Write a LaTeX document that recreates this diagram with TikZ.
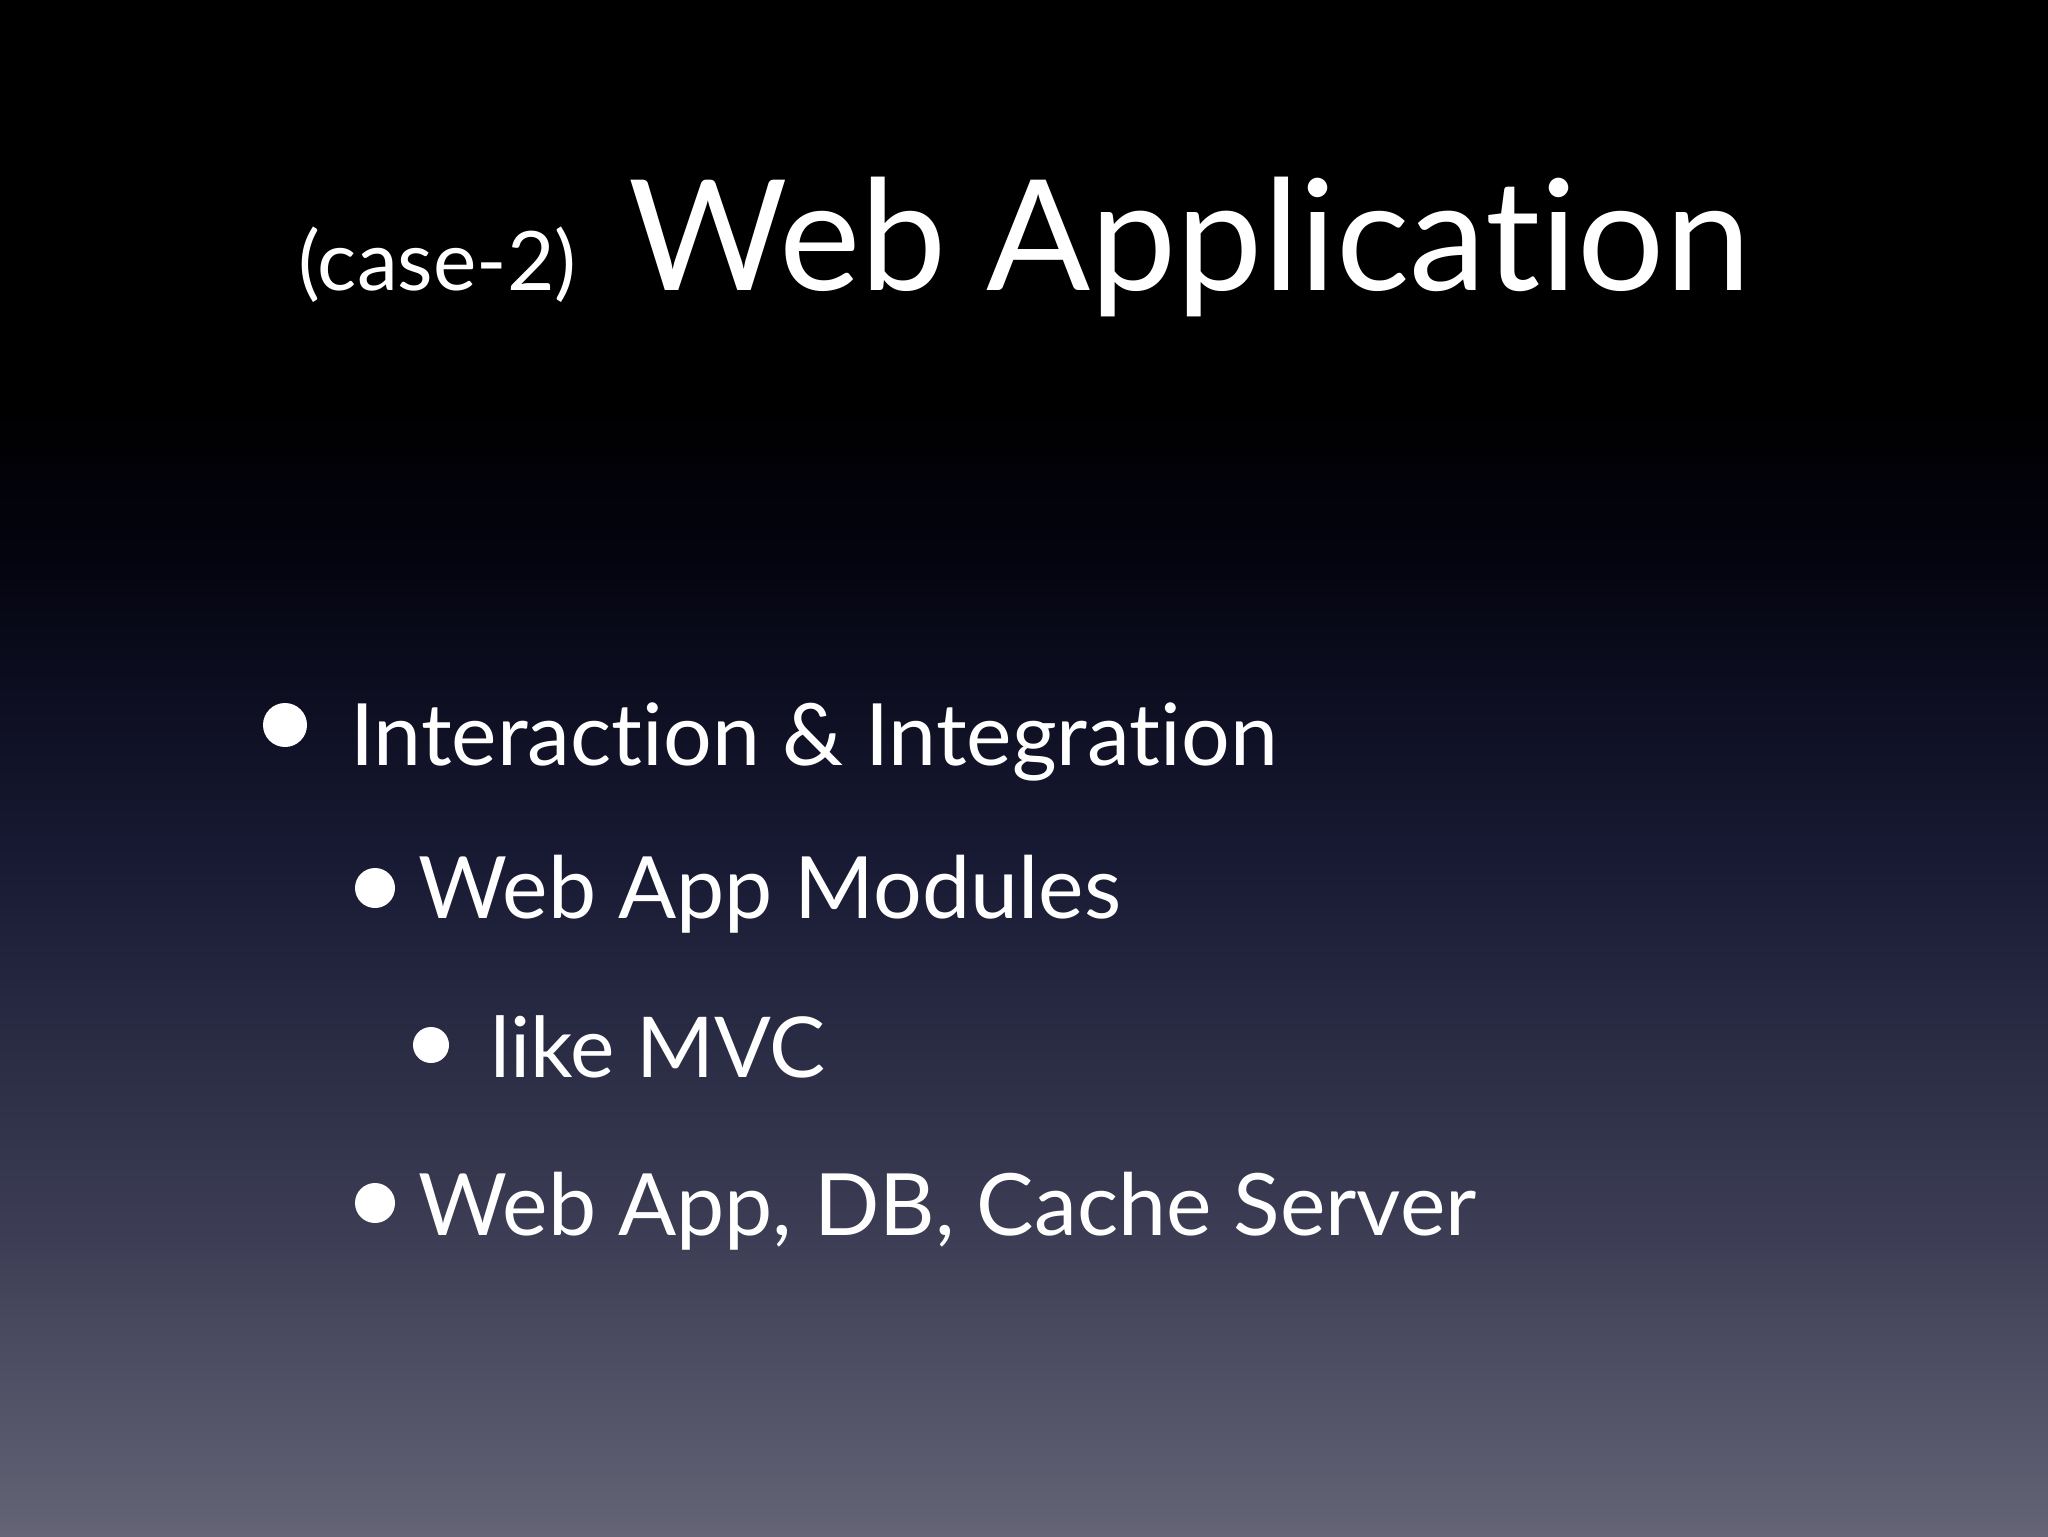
\documentclass[tikz,border=0pt]{standalone}
\usepackage{fontspec}
\setmainfont{Lato}[Ligatures={NoCommon,NoDiscretionary,NoRare}]
\definecolor{c0}{RGB}{0,0,0}
\definecolor{c1}{RGB}{4,4,16}
\definecolor{c2}{RGB}{24,26,52}
\definecolor{c3}{RGB}{62,63,86}
\definecolor{c4}{RGB}{100,100,118}
\tikzset{txt/.style={anchor=base west,text=white,inner sep=0pt},
  dot/.style={circle,fill=white,inner sep=0pt}}
\begin{document}
\begin{tikzpicture}[x=0.5pt,y=-0.5pt]
\useasboundingbox (0,0) rectangle (2048,1536);
\fill[c0] (0,0) rectangle (2048,400);
\fill[top color=c0,bottom color=c1] (0,399) rectangle (2048,560);
\fill[top color=c1,bottom color=c2] (0,559) rectangle (2048,860);
\fill[top color=c2,bottom color=c3] (0,859) rectangle (2048,1250);
\fill[top color=c3,bottom color=c4] (0,1249) rectangle (2048,1536);
\node[txt,font=\fontsize{41}{48}\selectfont] (case) at (298,290) {(case-2)};
\node[txt,font=\fontsize{77}{90}\selectfont] (title) at (628,290) {Web Application};
\node[dot,minimum size=22pt] (b1) at (285,725) {};
\node[txt,font=\fontsize{43}{50}\selectfont] (t1) at (350,765) {Interaction \& Integration};
\node[dot,minimum size=20pt] (b2) at (375,888) {};
\node[txt,font=\fontsize{43}{50}\selectfont] (t2) at (418,918) {Web App Modules};
\node[dot,minimum size=18pt] (b3) at (431,1045) {};
\node[txt,font=\fontsize{42}{50}\selectfont] (t3) at (490,1077) {like MVC};
\node[dot,minimum size=20pt] (b4) at (375,1203) {};
\node[txt,font=\fontsize{43}{50}\selectfont] (t4) at (418,1235) {Web App, DB, Cache Server};
\end{tikzpicture}
\end{document}
